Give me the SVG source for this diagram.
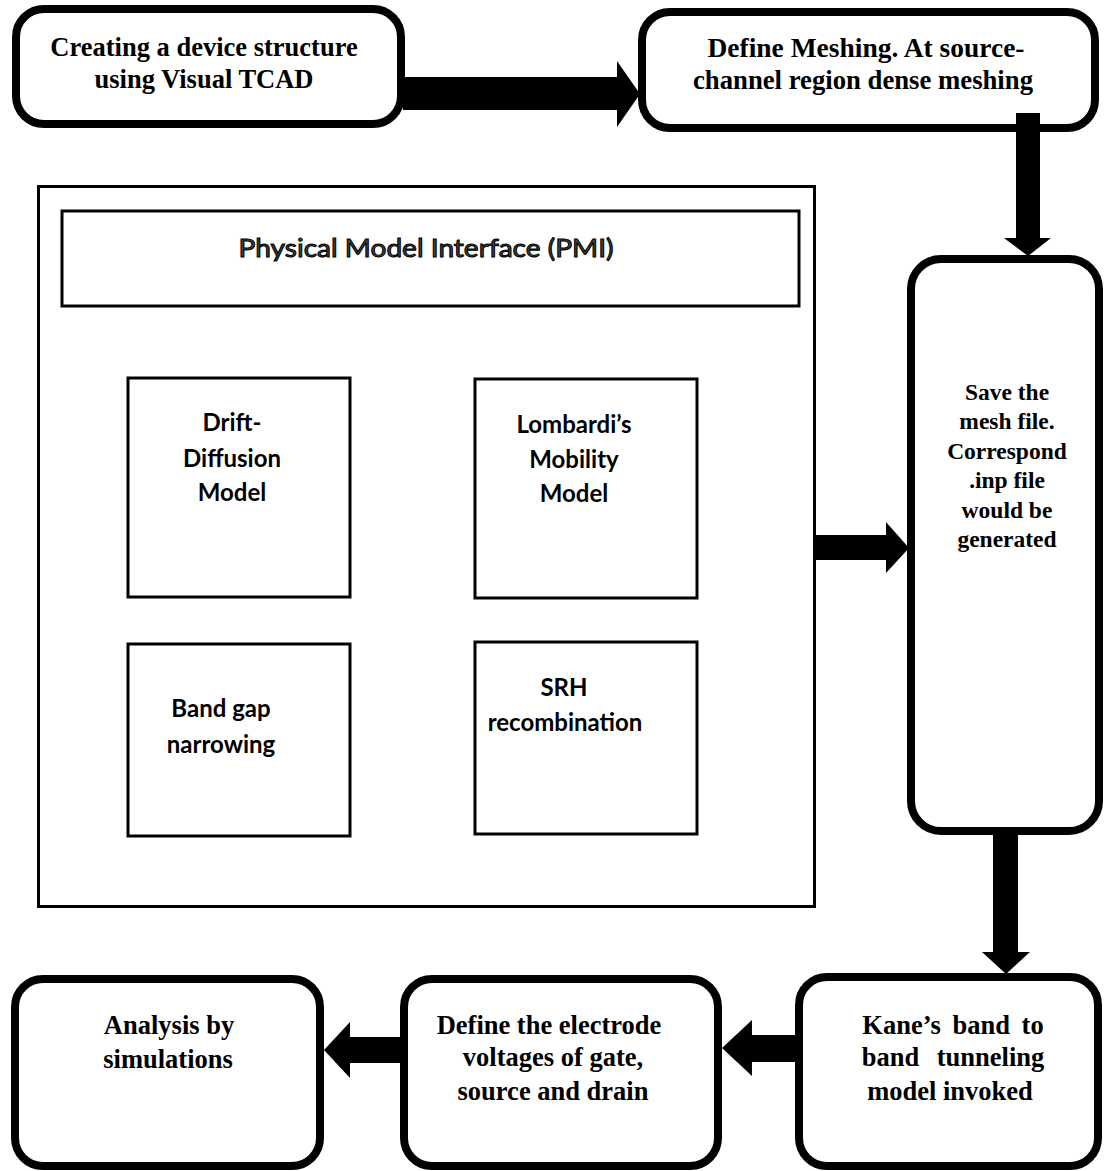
<svg xmlns="http://www.w3.org/2000/svg" width="1104" height="1171" viewBox="0 0 1104 1171">
  <style>
    .step { fill: #ffffff; stroke: #000000; stroke-width: 8; }
    .frame { fill: #ffffff; stroke: #000000; stroke-width: 3; }
    .arrow { fill: #000000; stroke: none; }
    .serif { font-family: "Liberation Serif", "Times New Roman", serif; font-weight: bold; fill: #000000; text-anchor: middle; font-size: 26.5px; }
    .serif.mesh { font-size: 27px; }
    .serif.small { font-size: 23.5px; }
    .sans { font-family: Lato, "Open Sans", "Liberation Sans", sans-serif; font-weight: bold; fill: #000000; text-anchor: middle; font-size: 24px; }
    .title { font-family: Lato, "Open Sans", "Liberation Sans", sans-serif; font-size: 25px; fill: #444444; stroke: #000000; stroke-width: 1; text-anchor: middle; }
  </style>
  <rect width="1104" height="1171" fill="#ffffff"/>

  <!-- PMI container with its four model blocks -->
  <g id="pmi">
    <rect class="frame" x="38.5" y="186.5" width="776" height="720"/>
    <g id="pmi-header">
      <rect class="frame" x="62" y="211" width="737" height="95"/>
      <text class="title" x="426" y="257" textLength="375" lengthAdjust="spacingAndGlyphs">Physical Model Interface (PMI)</text>
    </g>
    <g id="drift-diffusion">
      <rect class="frame" x="128" y="378" width="222" height="219"/>
      <text class="sans" x="232" y="431">Drift-</text>
      <text class="sans" x="232" y="467">Diffusion</text>
      <text class="sans" x="232" y="501">Model</text>
    </g>
    <g id="lombardi">
      <rect class="frame" x="475" y="379" width="222" height="219"/>
      <text class="sans" x="574" y="433">Lombardi’s</text>
      <text class="sans" x="574" y="468">Mobility</text>
      <text class="sans" x="574" y="502">Model</text>
    </g>
    <g id="bandgap">
      <rect class="frame" x="128" y="644" width="222" height="192"/>
      <text class="sans" x="221" y="717">Band gap</text>
      <text class="sans" x="221" y="753">narrowing</text>
    </g>
    <g id="srh">
      <rect class="frame" x="475" y="642" width="222" height="192"/>
      <text class="sans" x="564" y="696">SRH</text>
      <text class="sans" x="565" y="731">recombination</text>
    </g>
  </g>

  <g id="create-structure">
    <rect class="step" x="16" y="9" width="385" height="115" rx="28"/>
    <text class="serif" x="204" y="56">Creating a device structure</text>
    <text class="serif" x="204" y="88">using Visual TCAD</text>
  </g>

  <g id="define-meshing">
    <rect class="step" x="642" y="12" width="453" height="116" rx="28"/>
    <text class="serif mesh" x="866" y="57" textLength="317" lengthAdjust="spacingAndGlyphs">Define Meshing. At source-</text>
    <text class="serif mesh" x="863" y="89" textLength="340" lengthAdjust="spacingAndGlyphs">channel region dense meshing</text>
  </g>

  <g id="save-mesh">
    <rect class="step" x="911" y="259" width="188" height="572" rx="30"/>
    <text class="serif small" x="1007" y="400">Save the</text>
    <text class="serif small" x="1007" y="429">mesh file.</text>
    <text class="serif small" x="1007" y="459">Correspond</text>
    <text class="serif small" x="1007" y="488">.inp file</text>
    <text class="serif small" x="1007" y="518">would be</text>
    <text class="serif small" x="1007" y="547">generated</text>
  </g>

  <g id="kane-model">
    <rect class="step" x="799" y="977" width="299" height="189" rx="28"/>
    <text class="serif" x="953" y="1034" word-spacing="5">Kane’s band to</text>
    <text class="serif" x="953" y="1066" word-spacing="11">band tunneling</text>
    <text class="serif" x="950" y="1100">model invoked</text>
  </g>

  <g id="electrode-voltages">
    <rect class="step" x="404" y="979" width="314" height="187" rx="28"/>
    <text class="serif" x="549" y="1034">Define the electrode</text>
    <text class="serif" x="553" y="1066">voltages of gate,</text>
    <text class="serif" x="553" y="1100">source and drain</text>
  </g>

  <g id="analysis">
    <rect class="step" x="15" y="979" width="305" height="187" rx="28"/>
    <text class="serif" x="169" y="1034">Analysis by</text>
    <text class="serif" x="168" y="1068">simulations</text>
  </g>

  <!-- block arrows between the steps -->
  <g id="connectors">
    <polygon class="arrow" points="403,77 617,77 617,61 640,94 617,127 617,110 403,110"/>
    <polygon class="arrow" points="1016,113 1040,113 1040,238 1051,238 1028,256 1004,238 1016,238"/>
    <polygon class="arrow" points="815,535 886,535 886,522 909,548 886,573 886,560 815,560"/>
    <polygon class="arrow" points="993,833 1018,833 1018,952 1030,952 1006,974 982,952 993,952"/>
    <polygon class="arrow" points="797,1035 752,1035 752,1020 722,1048 752,1076 752,1062 797,1062"/>
    <polygon class="arrow" points="402,1037 350,1037 350,1022 324,1050 350,1078 350,1063 402,1063"/>
  </g>
</svg>
